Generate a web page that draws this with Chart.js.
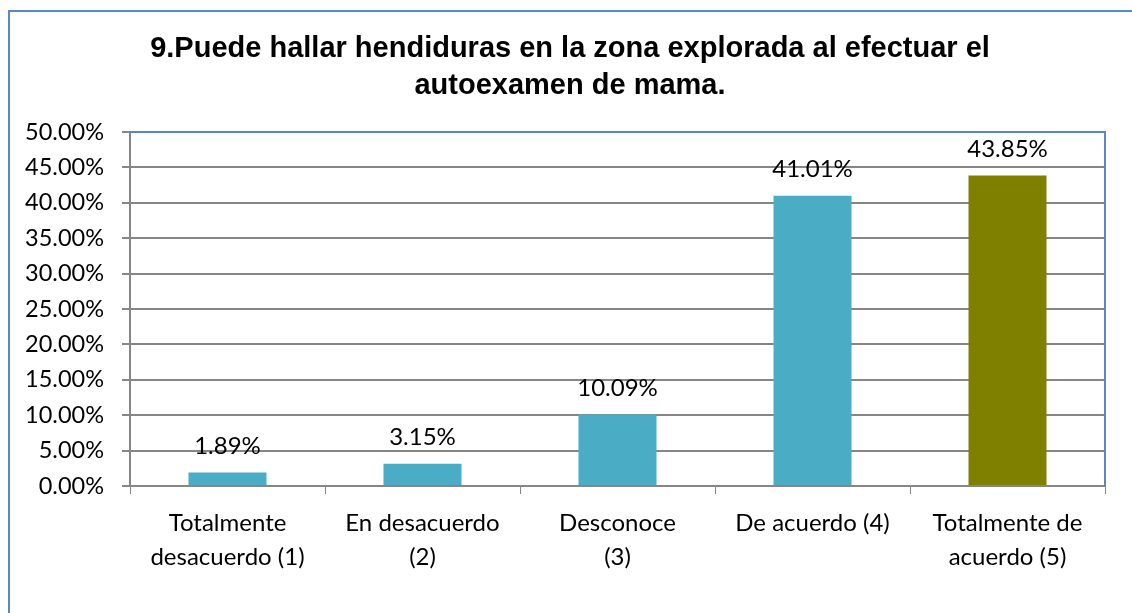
<!DOCTYPE html>
<html>
<head>
<meta charset="utf-8">
<script src="https://cdn.jsdelivr.net/npm/chart.js@4/dist/chart.umd.min.js"></script>
<style>
  html, body { margin: 0; padding: 0; background: #fff; }
  #wrap { position: relative; width: 1132px; height: 613px; overflow: hidden; }
  #frame { position: absolute; left: 8px; top: 10px; width: 1200px; height: 700px; border-left: 2px solid #5B87C2; border-top: 2px solid #5B87C2; box-sizing: border-box; }
  canvas { position: absolute; left: 0; top: 0; }
</style>
</head>
<body>
<div id="wrap">
  <div id="frame"></div>
  <canvas id="c" width="1132" height="613"></canvas>
</div>
<script>
const titleLines = ["9.Puede hallar hendiduras en la zona explorada al efectuar el", "autoexamen de mama."];
const categories = [["Totalmente", "desacuerdo (1)"], ["En desacuerdo", "(2)"], ["Desconoce", "(3)"], ["De acuerdo (4)"], ["Totalmente de", "acuerdo (5)"]];
const values = [1.89, 3.15, 10.09, 41.01, 43.85];
const valueLabels = ["1.89%", "3.15%", "10.09%", "41.01%", "43.85%"];
const barColors = ["#4BACC6", "#4BACC6", "#4BACC6", "#4BACC6", "#808000"];
const yMin = 0, yMax = 50, yStep = 5;

const FONT = "Lato, 'Noto Sans', sans-serif";

const extras = {
  id: 'extras',
  afterDatasetsDraw(chart) {
    const ctx = chart.ctx;
    const meta = chart.getDatasetMeta(0);
    ctx.save();
    ctx.fillStyle = '#000';
    ctx.font = '24px ' + FONT;
    ctx.textAlign = 'center';
    ctx.textBaseline = 'alphabetic';
    meta.data.forEach((bar, i) => {
      ctx.fillText(valueLabels[i], bar.x, bar.y - 19);
    });
    // plot border top & right
    const a = chart.chartArea;
    ctx.strokeStyle = '#5B87C2';
    ctx.lineWidth = 2;
    ctx.beginPath();
    ctx.moveTo(a.left, a.top);
    ctx.lineTo(a.right, a.top);
    ctx.lineTo(a.right, a.bottom);
    ctx.stroke();
    // title
    ctx.font = 'bold 29px "Liberation Sans", Arial, sans-serif';
    ctx.fillText(titleLines[0], 570, 57);
    ctx.fillText(titleLines[1], 570, 94);
    ctx.restore();
  }
};

new Chart(document.getElementById('c'), {
  type: 'bar',
  data: {
    labels: categories,
    datasets: [{
      data: values,
      backgroundColor: barColors,
      borderWidth: 0,
      barPercentage: 0.4,
      categoryPercentage: 1.0
    }]
  },
  options: {
    responsive: false,
    animation: false,
    events: [],
    layout: { padding: { left: 0, top: 132, right: 27, bottom: 0 } },
    plugins: { legend: { display: false }, title: { display: false }, tooltip: { enabled: false } },
    scales: {
      x: {
        offset: true,
        grid: { offset: true, drawOnChartArea: false, drawTicks: true, tickLength: 8, color: '#868686', lineWidth: 1 },
        border: { color: '#868686', width: 2 },
        ticks: { color: '#000', font: { family: FONT, size: 24, lineHeight: 34 / 24 }, padding: 12, maxRotation: 0, autoSkip: false },
        afterFit(scale) { scale.height = 127; }
      },
      y: {
        min: yMin, max: yMax,
        ticks: { stepSize: yStep, color: '#000', font: { family: FONT, size: 23.5 }, padding: 18,
          callback: v => v.toFixed(2) + '%' },
        grid: { color: '#868686', lineWidth: 2, tickLength: 8 },
        border: { color: '#868686', width: 2 },
        afterFit(scale) { scale.width = 130; }
      }
    }
  },
  plugins: [extras]
});
</script>
</body>
</html>
